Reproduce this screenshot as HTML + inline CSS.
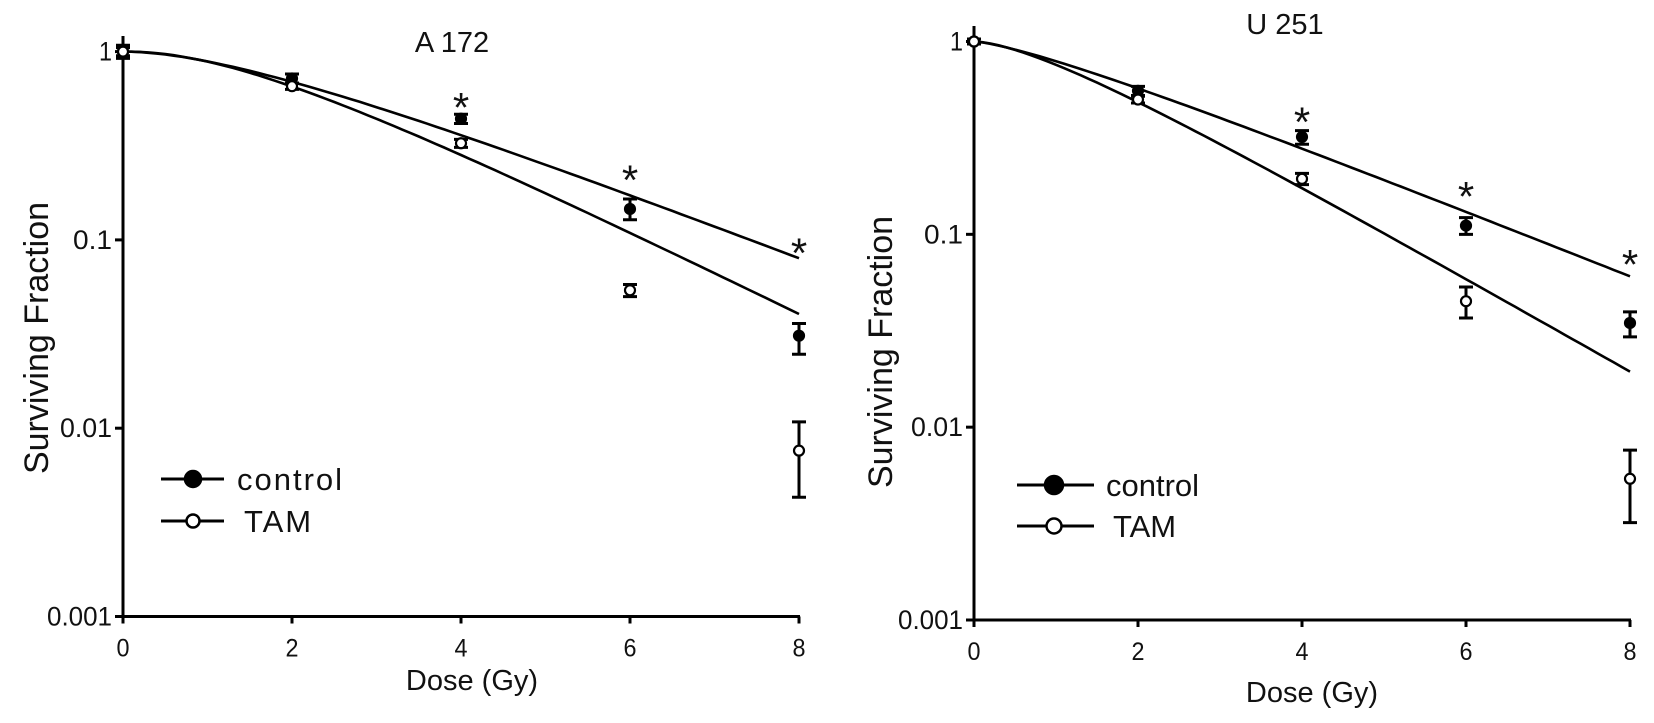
<!DOCTYPE html>
<html><head><meta charset="utf-8"><style>
html,body{margin:0;padding:0;background:#fff;}
svg{display:block;font-family:"Liberation Sans",Arial,sans-serif;}
</style></head><body>
<svg id="fig" width="1654" height="723" viewBox="0 0 1654 723"></svg>
<script>
// ---- data (dose in Gy, surviving fraction) ----
const doses = [0, 2, 4, 6, 8];
const xTicks = [0, 2, 4, 6, 8];
const yTicks = [1, 0.1, 0.01, 0.001];
const yTickLabels = ["1", "0.1", "0.01", "0.001"];
const starDoses = [4, 6, 8];

// A 172
const a172Control = [1, 0.72, 0.44, 0.146, 0.031];
const a172ControlLo = [0.92, 0.68, 0.415, 0.128, 0.0247];
const a172ControlHi = [1.08, 0.76, 0.465, 0.165, 0.036];
const a172Tam = [1, 0.655, 0.326, 0.054, 0.0076];
const a172TamLo = [0.95, 0.63, 0.31, 0.050, 0.0043];
const a172TamHi = [1.05, 0.68, 0.342, 0.058, 0.0108];
// multi-target fit parameters [control, TAM]
const a172FitD0 = [2.52, 1.977];
const a172FitN = [1.95, 2.34];
const a172Stars = [0.58, 0.24, 0.098];

// U 251
const u251Control = [1, 0.555, 0.32, 0.111, 0.0347];
const u251ControlLo = [0.97, 0.525, 0.293, 0.100, 0.0294];
const u251ControlHi = [1.03, 0.585, 0.345, 0.122, 0.0396];
const u251Tam = [1, 0.50, 0.194, 0.045, 0.0054];
const u251TamLo = [0.97, 0.48, 0.181, 0.0368, 0.0032];
const u251TamHi = [1.03, 0.52, 0.207, 0.0533, 0.0076];
const u251FitD0 = [2.566, 1.80];
const u251FitN = [1.38, 1.66];
const u251Stars = [0.44, 0.18, 0.08];

const NS = "http://www.w3.org/2000/svg";
const svg = document.getElementById("fig");
function mk(tag, attrs, parent, text) {
  const e = document.createElementNS(NS, tag);
  for (const k in attrs) e.setAttribute(k, attrs[k]);
  if (text !== undefined) e.textContent = text;
  (parent || svg).appendChild(e);
  return e;
}

function panel(cfg) {
  const g = mk("g", {});
  
  
  const X = d => cfg.x0 + (cfg.x8 - cfg.x0) * d / 8;
  const Y = v => cfg.y1 + (cfg.y001 - cfg.y1) * (-Math.log10(v)) / 3;

  const t = mk("text", {x: cfg.titleX, y: cfg.titleY, "font-size": 29, "text-anchor": "middle", fill: "#111"}, g, cfg.title);
  
  

  const ya = mk("line", {x1: cfg.x0, y1: cfg.yTop, x2: cfg.x0, y2: cfg.y001 + 7, stroke: "#000", "stroke-width": 3}, g);
  
  
  const xa = mk("line", {x1: cfg.x0 - 8, y1: cfg.y001, x2: cfg.x8 + 1, y2: cfg.y001, stroke: "#000", "stroke-width": 3}, g);
  
  

  yTicks.forEach((v, i) => {
    const y = Y(v);
    const tk = mk("line", {x1: cfg.x0 - 8, y1: y, x2: cfg.x0, y2: y, stroke: "#000", "stroke-width": 3}, g);
    
    
    const lb = mk("text", {x: cfg.x0 - 11, y: y + 9, "font-size": 27, "text-anchor": "end", fill: "#111",
      textLength: yTickLabels[i].length * 13, lengthAdjust: "spacingAndGlyphs"}, g, yTickLabels[i]);
    
    
  });
  xTicks.forEach(d => {
    const x = X(d);
    const tk = mk("line", {x1: x, y1: cfg.y001, x2: x, y2: cfg.y001 + 7, stroke: "#000", "stroke-width": 3}, g);
    
    
    const lb = mk("text", {x: x, y: cfg.y001 + 40, "font-size": 25, "text-anchor": "middle", fill: "#111",
      textLength: 13, lengthAdjust: "spacingAndGlyphs"}, g, String(d));
    
    
  });

  const xl = mk("text", {x: cfg.xLabelX, y: cfg.xLabelY, "font-size": 29, "text-anchor": "middle", fill: "#111"}, g, "Dose (Gy)");
  
  
  const yl = mk("text", {x: 0, y: 0, "font-size": 34, "text-anchor": "middle", fill: "#111",
    transform: `translate(${cfg.yLabelX},${cfg.yLabelY}) rotate(-90)`, "xml:space": "preserve"}, g, cfg.yLabelText);
  
  

  // fit curves (single-hit multi-target)
  cfg.d0.forEach((d0, k) => {
    const n = cfg.n[k];
    let dstr = "";
    for (let i = 0; i <= 80; i++) {
      const d = i / 10;
      const s = Math.min(1, 1 - Math.pow(1 - Math.exp(-d / d0), n));
      dstr += (i ? "L" : "M") + X(d).toFixed(1) + "," + Y(s).toFixed(1);
    }
    const p = mk("path", {d: dstr, fill: "none", stroke: "#000", "stroke-width": 2.6}, g);
    
    
  });

  function series(vals, lo, hi, filled, nm) {
    vals.forEach((v, i) => {
      const x = X(doses[i]);
      const eb = mk("path", {d: `M${x},${Y(hi[i])}V${Y(lo[i])}M${x-7},${Y(hi[i])}H${x+7}M${x-7},${Y(lo[i])}H${x+7}`,
        stroke: "#000", "stroke-width": 3, fill: "none"}, g);
      
      
      const c = mk("circle", {cx: x, cy: Y(v), r: 5, fill: filled ? "#000" : "#fff", stroke: "#000", "stroke-width": 2.2}, g);
      
      
    });
  }
  series(cfg.ctrl, cfg.ctrlLo, cfg.ctrlHi, true, 'control');
  series(cfg.tam, cfg.tamLo, cfg.tamHi, false, 'tam');

  starDoses.forEach((d, i) => {
    const s = mk("text", {x: X(d), y: Y(cfg.stars[i]) + 26, "font-size": 42, "text-anchor": "middle", fill: "#111"}, g, "*");
    
    
  });

  const lg = mk("g", {}, g);
  
  
  [["control", true, cfg.legY1, cfg.legTx1], ["TAM", false, cfg.legY2, cfg.legTx2]].forEach(([lab, filled, y, tx]) => {
    const e = mk("g", {}, lg);
    
    
    mk("line", {x1: cfg.legX1, y1: y, x2: cfg.legX2, y2: y, stroke: "#000", "stroke-width": 3}, e);
    mk("circle", {cx: cfg.legMx, cy: y, r: filled ? cfg.legR : cfg.legR - 1.5, fill: filled ? "#000" : "#fff", stroke: "#000", "stroke-width": 2.5}, e);
    mk("text", {x: tx, y: y + 11, "font-size": cfg.legFont, "letter-spacing": cfg.legLs, fill: "#111"}, e, lab);
  });
}

panel({name: "panel-a172", title: "A 172", titleX: 452, titleY: 52,
  x0: 123, x8: 799, y1: 51.6, y001: 616.5, yTop: 36,
  xLabelX: 472, xLabelY: 690, yLabelX: 48, yLabelY: 338, yLabelText: "Surviving  Fraction",
  ctrl: a172Control, ctrlLo: a172ControlLo, ctrlHi: a172ControlHi,
  tam: a172Tam, tamLo: a172TamLo, tamHi: a172TamHi,
  d0: a172FitD0, n: a172FitN, stars: a172Stars,
  legX1: 161, legX2: 224, legMx: 193, legR: 8, legY1: 479, legY2: 521, legTx1: 237, legTx2: 244, legFont: 31, legLs: 2});

panel({name: "panel-u251", title: "U 251", titleX: 1285, titleY: 34,
  x0: 974, x8: 1630, y1: 41.5, y001: 620, yTop: 26,
  xLabelX: 1312, xLabelY: 702, yLabelX: 892, yLabelY: 352, yLabelText: "Surviving Fraction",
  ctrl: u251Control, ctrlLo: u251ControlLo, ctrlHi: u251ControlHi,
  tam: u251Tam, tamLo: u251TamLo, tamHi: u251TamHi,
  d0: u251FitD0, n: u251FitN, stars: u251Stars,
  legX1: 1017, legX2: 1094, legMx: 1054, legR: 9, legY1: 485, legY2: 526, legTx1: 1106, legTx2: 1113, legFont: 31, legLs: 0});
</script>
</body></html>
